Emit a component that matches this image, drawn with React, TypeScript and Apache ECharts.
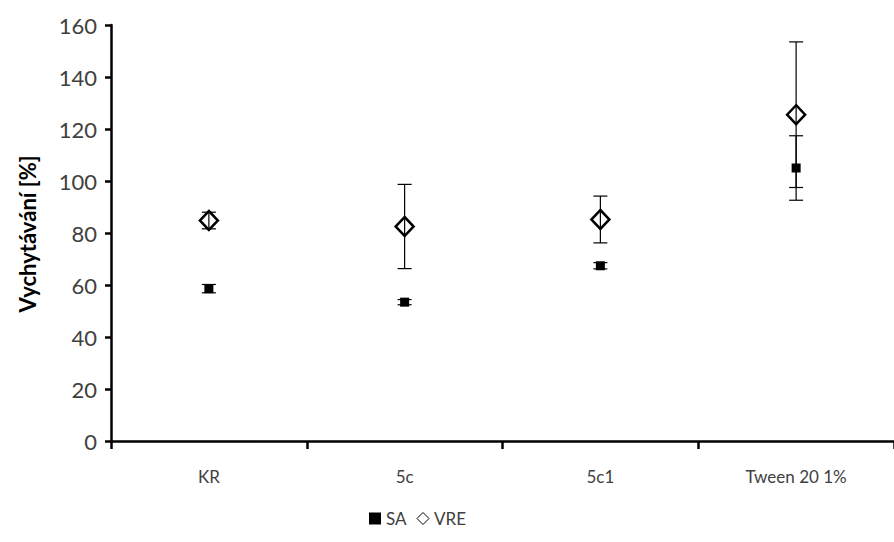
import React, { useEffect, useRef } from "react";
import * as echarts from "echarts";

const categories = ["KR", "5c", "5c1", "Tween 20 1%"];
const saValues = [58.6, 53.4, 67.4, 105];
const saErrors = [1.6, 1.0, 1.2, 12.4];
const vreValues = [84.8, 82.5, 85.2, 125.5];
const vreErrors = [3.2, 16.2, 9.0, 28.0];
const yTicks = { min: 0, max: 160, interval: 20 };

const FONT = "Lato, 'Open Sans', sans-serif";
const TEXT = "#404040";

function errorData(values: number[], errors: number[]) {
  return values.map((v, i) => [i, v - errors[i], v + errors[i]]);
}

function errorRender(params: any, api: any) {
  const x = api.value(0);
  const lo = api.coord([x, api.value(1)]);
  const hi = api.coord([x, api.value(2)]);
  const hw = 7;
  const style = { stroke: "#000", lineWidth: 1.2 };
  return {
    type: "group",
    children: [
      { type: "line", shape: { x1: lo[0], y1: lo[1], x2: hi[0], y2: hi[1] }, style },
      { type: "line", shape: { x1: lo[0] - hw, y1: lo[1], x2: lo[0] + hw, y2: lo[1] }, style },
      { type: "line", shape: { x1: hi[0] - hw, y1: hi[1], x2: hi[0] + hw, y2: hi[1] }, style },
    ],
  };
}

export default function App() {
  const ref = useRef<HTMLDivElement>(null);
  useEffect(() => {
    if (!ref.current) return;
    const chart = echarts.init(ref.current, null, { renderer: "svg" });
    chart.setOption({
      animation: false,
      backgroundColor: "#fff",
      grid: { left: 111, top: 25, right: -12, bottom: 101, containLabel: false },
      xAxis: {
        type: "category",
        data: categories,
        boundaryGap: true,
        axisLine: { lineStyle: { color: "#000000", width: 2.5, opacity: 1 } },
        axisTick: { show: true, alignWithLabel: false, length: 8, lineStyle: { color: "#000000", width: 2.5 } },
        axisLabel: { color: TEXT, fontSize: 17, fontFamily: FONT, margin: 27 },
        splitLine: { show: false },
      },
      yAxis: {
        type: "value",
        min: yTicks.min,
        max: yTicks.max,
        interval: yTicks.interval,
        axisLine: { show: true, lineStyle: { color: "#000000", width: 2.5, opacity: 1 } },
        axisTick: { show: true, length: 6, lineStyle: { color: "#000000", width: 2.5 } },
        axisLabel: { color: TEXT, fontSize: 22, fontFamily: FONT, margin: 14 },
        splitLine: { show: false },
      },
      legend: {
        bottom: 10,
        left: 364,
        data: [
          { name: "SA", icon: "rect", itemStyle: { color: "#000", borderWidth: 0 } },
          { name: "VRE", icon: "diamond", itemStyle: { color: "#fff", borderColor: "#000", borderWidth: 1 } },
        ],
        itemWidth: 12,
        itemHeight: 12,
        itemGap: 10,
        textStyle: { color: TEXT, fontSize: 17, fontFamily: FONT },
      },
      graphic: [
        {
          type: "text",
          x: 27,
          y: 234,
          rotation: Math.PI / 2,
          style: {
            text: "Vychytávání [%]",
            fill: "#000",
            font: `bold 22px ${FONT}`,
            align: "center",
            verticalAlign: "middle",
          },
        },
      ],
      series: [
        {
          name: "SA-err",
          type: "custom",
          renderItem: errorRender,
          data: errorData(saValues, saErrors),
          z: 3,
          silent: true,
        },
        {
          name: "VRE-err",
          type: "custom",
          renderItem: errorRender,
          data: errorData(vreValues, vreErrors),
          z: 3,
          silent: true,
        },
        {
          name: "SA",
          type: "scatter",
          data: saValues,
          symbol: "rect",
          symbolSize: 9,
          itemStyle: { color: "#000", opacity: 1 },
          z: 4,
        },
        {
          name: "VRE",
          type: "scatter",
          data: vreValues,
          symbol: "diamond",
          symbolSize: [18, 19],
          itemStyle: { color: "rgba(255,255,255,0)", borderColor: "#000", borderWidth: 2.5, opacity: 1 },
          z: 4,
        },
      ],
    });
    return () => chart.dispose();
  }, []);
  return <div ref={ref} style={{ width: 894, height: 542, position: "absolute", left: 0, top: 0 }} />;
}
